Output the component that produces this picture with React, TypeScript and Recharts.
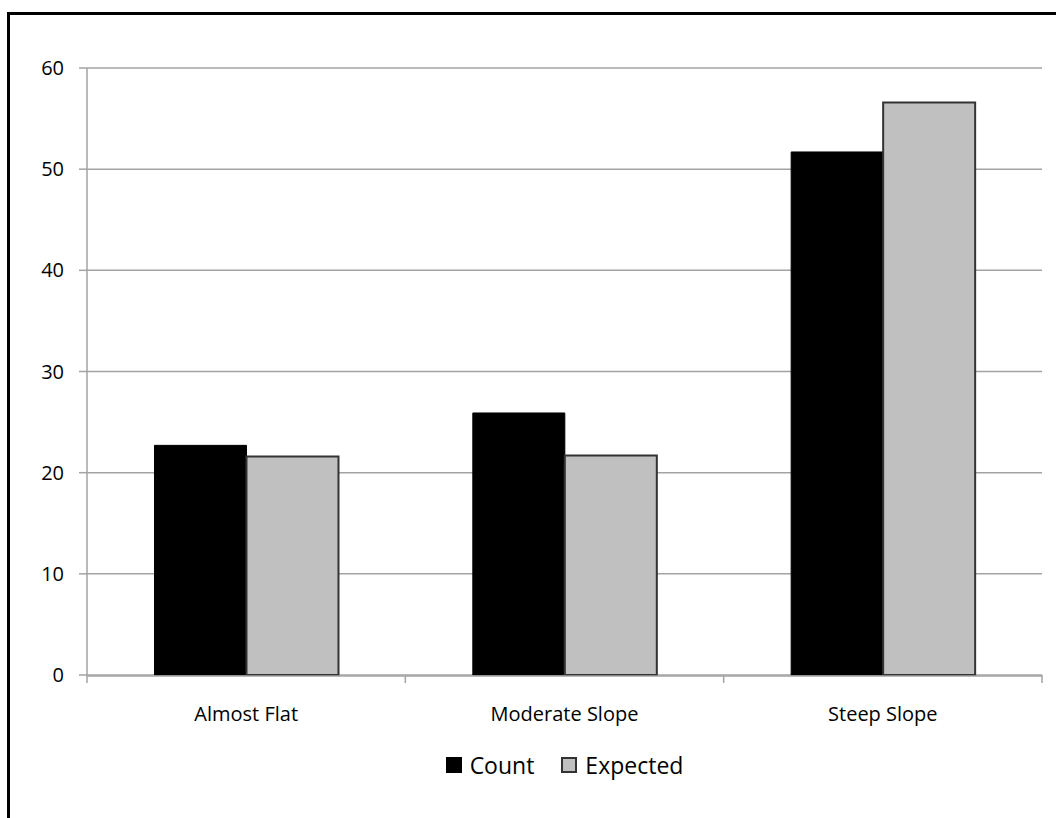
import React from 'react';
import { BarChart, Bar, XAxis, YAxis, CartesianGrid, Legend } from 'recharts';

const categories = ['Almost Flat', 'Moderate Slope', 'Steep Slope'];
const countValues = [22.7, 25.9, 51.7];
const expectedValues = [21.6, 21.7, 56.6];
const yTicks = [0, 10, 20, 30, 40, 50, 60];
const boundaryTicks = [0, 1, 2, 3];
const seriesNames = ['Count', 'Expected'];

const data = categories.map((c, i) => ({
  name: c,
  pos: i + 0.5,
  Count: countValues[i],
  Expected: expectedValues[i],
}));

const FONT = '"Open Sans", sans-serif';
const GRID = '#a3a3a3';

const legendItems = [
  { name: seriesNames[0], fill: '#000000', stroke: '#000000' },
  { name: seriesNames[1], fill: '#c0c0c0', stroke: '#333333' },
];

const renderLegend = () => (
  <div
    style={{
      display: 'flex',
      justifyContent: 'center',
      alignItems: 'center',
      paddingTop: 18,
      fontFamily: FONT,
      fontSize: 23,
      color: '#000',
    }}
  >
    {legendItems.map((it, i) => (
      <div key={it.name} style={{ display: 'flex', alignItems: 'center', marginLeft: i === 0 ? 0 : 27 }}>
        <div
          style={{
            width: 16,
            height: 16,
            boxSizing: 'border-box',
            background: it.fill,
            border: `2px solid ${it.stroke}`,
            marginRight: 8,
          }}
        />
        <span style={{ lineHeight: '24px' }}>{it.name}</span>
      </div>
    ))}
  </div>
);

const EmptyTick = () => <g />;

export default function App() {
  return (
    <div
      style={{
        position: 'absolute',
        left: 0,
        top: 0,
        width: 1056,
        height: 818,
        overflow: 'hidden',
        background: '#fff',
      }}
    >
      <div
        style={{
          position: 'absolute',
          left: 7,
          top: 12,
          width: 1100,
          height: 900,
          border: '3px solid #000',
          boxSizing: 'border-box',
        }}
      />
      <BarChart
        width={1056}
        height={818}
        data={data}
        margin={{ top: 68, right: 14, left: 0, bottom: 0 }}
        barCategoryGap="21.2%"
        barGap={0}
        style={{ position: 'absolute', left: 0, top: 0 }}
      >
        <CartesianGrid horizontal vertical={false} stroke={GRID} strokeWidth={1.5} yAxisId="y" xAxisId="cat" />
        <XAxis
          xAxisId="b"
          dataKey="pos"
          type="number"
          scale="linear"
          domain={[0, 3]}
          ticks={boundaryTicks}
          tick={<EmptyTick />}
          interval={0}
          axisLine={false}
          tickLine={{ stroke: GRID, strokeWidth: 1.5 }}
          tickSize={8}
          height={1}
          allowDataOverflow
        />
        <XAxis
          xAxisId="cat"
          dataKey="name"
          type="category"
          axisLine={{ stroke: GRID, strokeWidth: 1.5 }}
          tickLine={false}
          tickSize={8}
          tickMargin={23}
          height={59}
          tick={{ fontFamily: FONT, fontSize: 20, fill: '#000' }}
          interval={0}
        />
        <YAxis
          yAxisId="y"
          domain={[0, 60]}
          ticks={yTicks}
          width={87}
          axisLine={{ stroke: GRID, strokeWidth: 1.5 }}
          tickLine={{ stroke: GRID, strokeWidth: 1.5 }}
          tickSize={8}
          tickMargin={15}
          tick={{ fontFamily: FONT, fontSize: 20, fill: '#000' }}
          interval={0}
        />
        <Legend verticalAlign="bottom" height={83} wrapperStyle={{ left: 87, width: 955 }} content={renderLegend} />
        <Bar
          dataKey="Count"
          xAxisId="cat"
          yAxisId="y"
          fill="#000000"
          stroke="#000000"
          strokeWidth={1}
          isAnimationActive={false}
        />
        <Bar
          dataKey="Expected"
          xAxisId="cat"
          yAxisId="y"
          fill="#c0c0c0"
          stroke="#333333"
          strokeWidth={2}
          isAnimationActive={false}
        />
      </BarChart>
    </div>
  );
}
